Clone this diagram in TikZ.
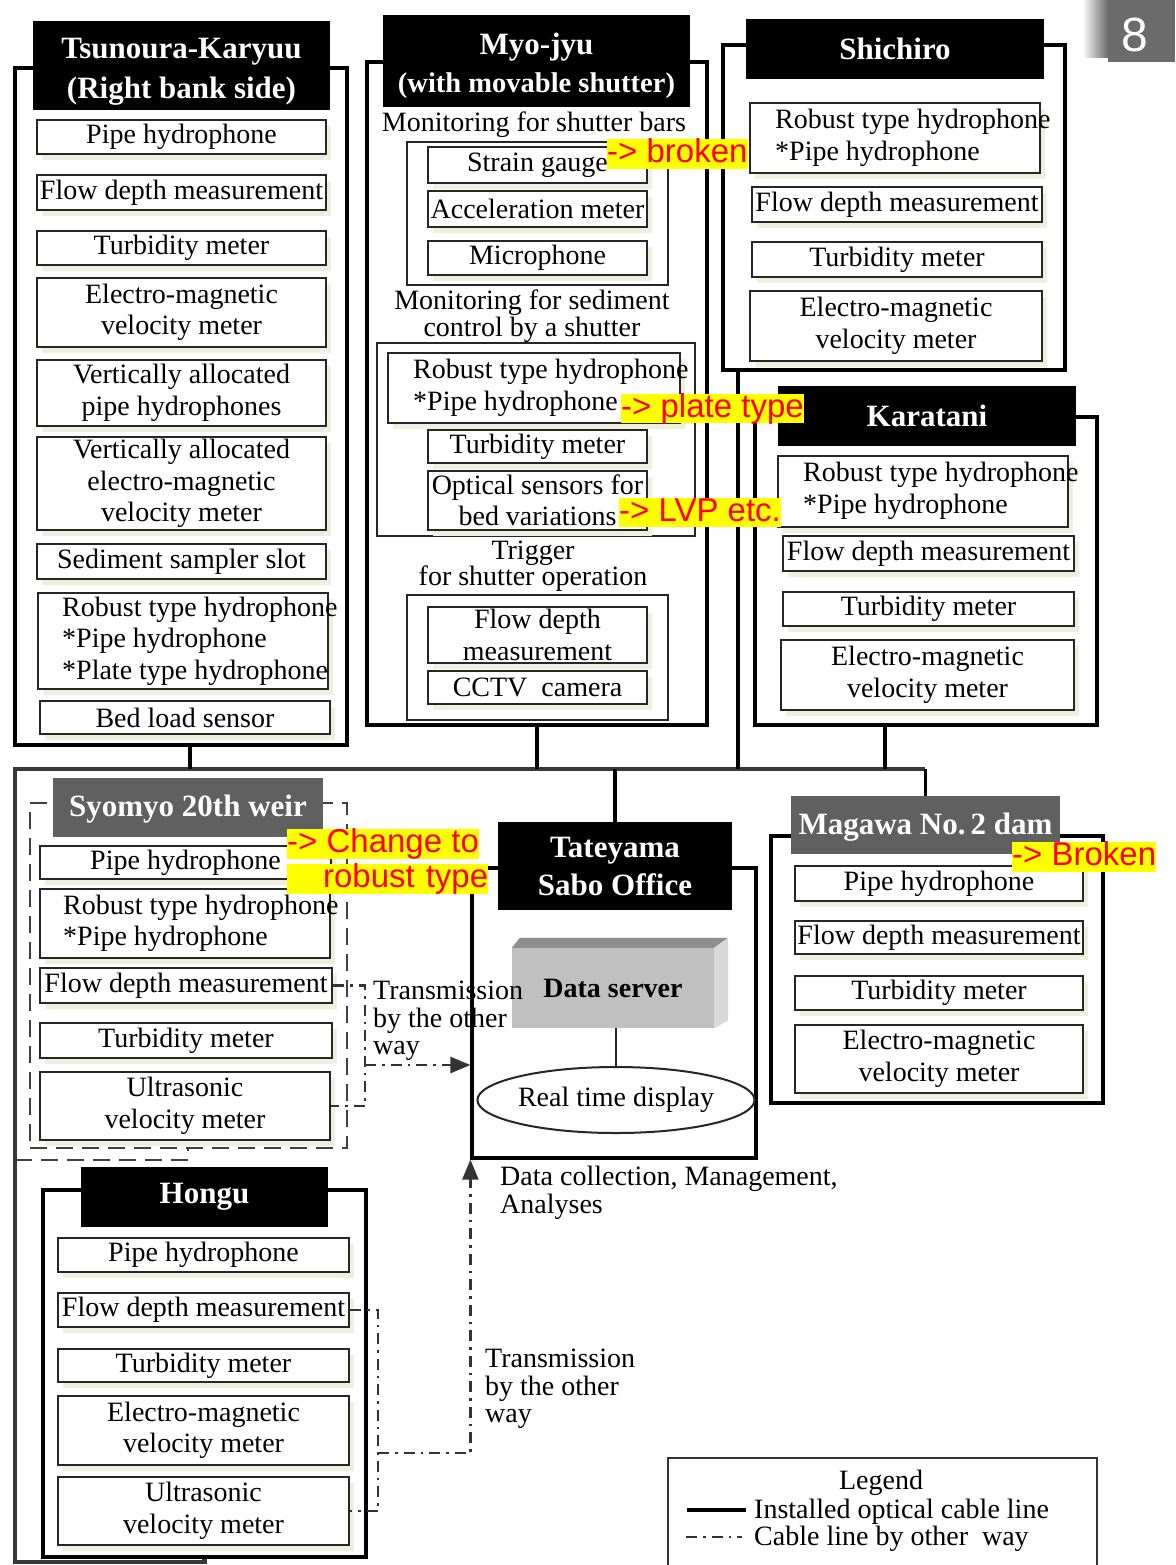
\documentclass[tikz,border=0pt]{standalone}
\usepackage{fontspec}
\setmainfont{Liberation Serif}
\setsansfont{Liberation Sans}
\usetikzlibrary{arrows.meta,shapes.geometric,shadows}
\definecolor{hdrgray}{HTML}{606060}
\definecolor{srvfront}{HTML}{C0C0C0}
\definecolor{srvtop}{HTML}{8E8E8E}
\definecolor{srvside}{HTML}{D8D8D8}
\definecolor{tabgray}{HTML}{6B6B6B}
\definecolor{annotbg}{HTML}{FFFF00}
\definecolor{annotfg}{HTML}{FF0000}
\definecolor{shadowtint}{HTML}{EFEFE0}
\definecolor{cablegray}{HTML}{383838}
% named node placed by its corner coordinates (units: px)
\newcommand\putbox[7]{\node[#2,minimum width={(#5)-(#3)},minimum height={(#6)-(#4)}] (#1) at ({((#3)+(#5))/2},{((#4)+(#6))/2}) {#7};}
\begin{document}
\begin{tikzpicture}[x=1pt,y=-1pt,
  frame/.style={draw=black,line width=3.2pt,inner sep=0pt},
  subframe/.style={draw=black!85,line width=2pt,inner sep=0pt},
  dashframe/.style={draw=black!75,line width=2.8pt,dash pattern=on 17pt off 9pt},
  item/.style={draw=black!85,line width=2pt,fill=white,inner sep=0pt,align=center,
    font=\fontsize{28}{31.5}\selectfont,
    drop shadow={fill=shadowtint,opacity=1,shadow xshift=5pt,shadow yshift=-6pt}},
  hdr/.style={fill=black,text=white,inner sep=0pt,align=center,font=\bfseries\fontsize{31}{38}\selectfont},
  hdrg/.style={hdr,fill=hdrgray},
  txt/.style={inner sep=0pt,align=left,font=\fontsize{28}{31.5}\selectfont},
  ctxt/.style={inner sep=0pt,align=center,font=\fontsize{28}{26.5}\selectfont},
  note/.style={inner sep=0pt,align=left,font=\fontsize{28}{27.5}\selectfont},
  annot/.style={fill=annotbg,text=annotfg,inner sep=0pt,text height=23.5pt,text depth=6pt,
    font=\sffamily\fontsize{33}{33}\selectfont},
  cable/.style={draw=cablegray,line width=4.2pt},
  link/.style={draw=black,line width=3.2pt},
  otherway/.style={draw=black!80,line width=2.4pt,dash pattern=on 11pt off 6pt on 2.5pt off 6pt},
  tip/.style={-{Triangle[length=20pt,width=16pt]}},
  legframe/.style={draw=black!80,line width=2.2pt,inner sep=0pt},
  tabbox/.style={fill=tabgray,inner sep=0pt},
]
\fill[white] (0,0) rectangle (1175,1565);
\useasboundingbox (0,0) rectangle (1175,1565);

% ---------- cable junctions ----------
\coordinate (busW) at (15,769);
\coordinate (busE) at (925,769);
\coordinate (tkJ) at (190,769);
\coordinate (shJ) at (738,769);
\coordinate (kaJ) at (885,769);
\coordinate (lcorner) at (15,1562);
\coordinate (syJ) at (188,1160);

% ---------- Tsunoura-Karyuu ----------
\putbox{tkF}{frame}{15}{68}{347}{745}{}
\putbox{tkH}{hdr}{33}{21}{330}{110}{\rule{0pt}{33pt}Tsunoura-Karyuu\\[2pt](Right bank side)}
\putbox{tk1}{item}{37}{120}{326}{154}{Pipe hydrophone}
\putbox{tk2}{item}{37}{175}{326}{210}{Flow depth measurement}
\putbox{tk3}{item}{37}{231}{326}{265}{Turbidity meter}
\putbox{tk4}{item}{37}{278}{326}{347}{Electro-magnetic\\velocity meter}
\putbox{tk5}{item}{37}{360}{326}{426}{Vertically allocated\\pipe hydrophones}
\putbox{tk6}{item}{37}{437}{326}{530}{Vertically allocated\\electro-magnetic\\velocity meter}
\putbox{tk7}{item}{37}{544}{326}{579}{Sediment sampler slot}
\putbox{tk8}{item}{38}{593}{328}{689}{}
\node[txt,anchor=west] (tk8t) at (62,641) {Robust type hydrophone\\*Pipe hydrophone\\*Plate type hydrophone};
\putbox{tk9}{item}{40}{701}{330}{734}{Bed load sensor}

% ---------- Myo-jyu ----------
\putbox{myF}{frame}{367}{62}{707}{725}{}
\putbox{myH}{hdr}{383}{15}{690}{107}{\rule{0pt}{32pt}Myo-jyu\\{\fontsize{28.5}{38}\selectfont(with movable shutter)}}
\node[ctxt] (myL1) at (534,125) {Monitoring for shutter bars};
\putbox{myS1}{subframe}{407}{142}{668}{285}{}
\putbox{my1}{item}{428}{147}{647}{183}{Strain gauge}
\putbox{my2}{item}{428}{191}{647}{227}{Acceleration meter}
\putbox{my3}{item}{428}{241}{647}{275}{Microphone}
\node[ctxt] (myL2) at (532,316) {Monitoring for sediment\\control by a shutter};
\putbox{myS2}{subframe}{377}{343}{695}{536}{}
\putbox{my4}{item}{388}{353}{680}{423}{}
\node[txt,anchor=west] (my4t) at (413,388) {Robust type hydrophone\\*Pipe hydrophone};
\putbox{my5}{item}{428}{430}{647}{463}{Turbidity meter}
\putbox{my6}{item}{428}{471}{647}{530}{Optical sensors for\\bed variations}
\node[ctxt] (myL3) at (533,566) {Trigger\\for shutter operation};
\putbox{myS3}{subframe}{407}{595}{668}{720}{}
\putbox{my7}{item}{428}{607}{647}{663}{Flow depth\\measurement}
\putbox{my8}{item}{428}{671}{647}{704}{CCTV~ camera}

% ---------- Shichiro ----------
\putbox{shF}{frame}{723}{45}{1065}{370}{}
\putbox{shH}{hdr}{746}{19}{1044}{79}{Shichiro}
\putbox{sh1}{item}{750}{103}{1040}{173}{}
\node[txt,anchor=west] (sh1t) at (775,138) {Robust type hydrophone\\*Pipe hydrophone};
\putbox{sh2}{item}{752}{187}{1042}{222}{Flow depth measurement}
\putbox{sh3}{item}{752}{242}{1042}{277}{Turbidity meter}
\putbox{sh4}{item}{750}{291}{1042}{361}{Electro-magnetic\\velocity meter}

% ---------- Karatani ----------
\putbox{kaF}{frame}{755}{417}{1097}{725}{}
\putbox{kaH}{hdr}{778}{386}{1076}{446}{Karatani}
\putbox{ka1}{item}{778}{456}{1068}{527}{}
\node[txt,anchor=west] (ka1t) at (803,491) {Robust type hydrophone\\*Pipe hydrophone};
\putbox{ka2}{item}{783}{536}{1074}{571}{Flow depth measurement}
\putbox{ka3}{item}{783}{592}{1074}{626}{Turbidity meter}
\putbox{ka4}{item}{781}{640}{1074}{710}{Electro-magnetic\\velocity meter}

% ---------- Syomyo 20th weir ----------
\putbox{syF}{dashframe}{30}{803}{347}{1148}{}
\draw[dashframe] (busW |- syJ) -- (syJ) -- (syJ |- syF.south);
\putbox{syH}{hdrg}{53}{778}{323}{837}{\rule{0pt}{25pt}Syomyo 20th weir}
\putbox{sy1}{item}{40}{846}{331}{879}{Pipe hydrophone}
\putbox{sy2}{item}{40}{889}{330}{958}{}
\node[txt,anchor=west] (sy2t) at (63,923.5) {Robust type hydrophone\\*Pipe hydrophone};
\putbox{sy3}{item}{40}{968}{332}{1003}{Flow depth measurement}
\putbox{sy4}{item}{40}{1023}{332}{1058}{Turbidity meter}
\putbox{sy5}{item}{40}{1072}{330}{1140}{Ultrasonic\\velocity meter}

% ---------- Tateyama Sabo Office ----------
\putbox{taF}{frame}{472}{868}{756}{1158}{}
\putbox{taH}{hdr}{498}{822}{732}{910}{Tateyama\\Sabo Office}
\putbox{srv}{fill=srvfront,inner sep=0pt,font=\bfseries\fontsize{28}{28}\selectfont}{512}{948}{714}{1028}{Data server}
\fill[srvtop] (srv.north west) -- ([shift={(8,-10)}]srv.north west) -- ([shift={(14,-10)}]srv.north east) -- (srv.north east) -- cycle;
\fill[srvside] (srv.north east) -- ([shift={(14,-10)}]srv.north east) -- ([shift={(14,-8)}]srv.south east) -- (srv.south east) -- cycle;
\node[ellipse,draw=black!85,line width=2pt,minimum width=272pt,minimum height=66pt,inner sep=0pt,
  font=\fontsize{28}{28}\selectfont] (rtd) at (616,1100) {Real time display};
\draw[draw=black!85,line width=2.4pt] (srv.south -| rtd.north) -- (rtd.north);
\node[note,anchor=north west] (taL) at (500,1166) {Data collection, Management,\\Analyses};

% ---------- Magawa No. 2 dam ----------
\putbox{maF}{frame}{771}{836}{1103}{1103}{}
\putbox{maH}{hdrg}{791}{796}{1060}{854}{\rule{0pt}{25pt}Magawa No.\,2 dam}
\putbox{ma1}{item}{795}{866}{1083}{901}{Pipe hydrophone}
\putbox{ma2}{item}{795}{921}{1083}{954}{Flow depth measurement}
\putbox{ma3}{item}{795}{976}{1083}{1010}{Turbidity meter}
\putbox{ma4}{item}{795}{1025}{1083}{1093}{Electro-magnetic\\velocity meter}

% ---------- Hongu ----------
\putbox{hoF}{frame}{43}{1190}{366}{1557}{}
\putbox{hoH}{hdr}{81}{1167}{328}{1227}{Hongu}
\putbox{ho1}{item}{58}{1238}{349}{1272}{Pipe hydrophone}
\putbox{ho2}{item}{58}{1293}{349}{1327}{Flow depth measurement}
\putbox{ho3}{item}{58}{1349}{349}{1382}{Turbidity meter}
\putbox{ho4}{item}{58}{1396}{349}{1465}{Electro-magnetic\\velocity meter}
\putbox{ho5}{item}{58}{1477}{349}{1545}{Ultrasonic\\velocity meter}

% ---------- optical cable network ----------
\draw[cable] (busE) -- (busW) -- (lcorner) -| (hoF.south);
\draw[link] (tkJ |- tkF.south) -- (tkJ);
\draw[link] (myF.south) -- (myF.south |- busW);
\draw[link] (shJ |- shF.south) -- (shJ);
\draw[link] (kaJ |- kaF.south) -- (kaJ);
\draw[link] (taH.north |- busW) -- (taH.north);
\draw[link] (maH.north |- busE) -- (maH.north);

% ---------- transmission by other ways ----------
\coordinate (syB) at (365,1065);
\draw[otherway] (sy3.east) -| (syB) |- (sy5.east);
\draw[otherway,tip] (syB) -- (syB -| taF.west);
\node[note,anchor=north west] (syT) at (373,981) {Transmission\\by the other\\way};
\coordinate (hoB) at (378,1453);
\draw[otherway] (ho2.east) -| (hoB) |- (ho5.east);
\draw[otherway,tip] (hoB) -| (taF.south west);
\node[note,anchor=north west] (hoT) at (485,1349) {Transmission\\by the other\\way};

% ---------- status notes ----------
\node[annot,anchor=west] (myA1) at (607,154) {-> broken};
\node[annot,anchor=west] (myA2) at (621,408.5) {-> plate type};
\node[annot,anchor=west] (myA3) at (619,512.5) {-> LVP etc.};
\node[annot,anchor=west] (syA1) at (287,844) {-> Change to};
\node[annot,anchor=west,text width=201pt,align=right] (syA2) at (287,879) {robust type};
\node[annot,anchor=west] (maA) at (1012,857) {-> Broken};

% ---------- legend ----------
\putbox{lgF}{legframe}{668}{1458}{1097}{1600}{}
\node[txt] (lgT) at (881,1483) {Legend};
\coordinate (lgA) at (687,1510);
\coordinate (lgB) at (746,1510);
\draw[line width=4.5pt] (lgA) -- (lgB);
\coordinate (lgC) at (686,1537);
\coordinate (lgD) at (742,1537);
\draw[otherway] (lgC) -- (lgD);
\node[txt,anchor=west] (lgT1) at (754,1512) {Installed optical cable line};
\node[txt,anchor=west] (lgT2) at (754,1539) {Cable line by other\ \ way};

% ---------- page tab ----------
\shade[left color=white,right color=tabgray] (1082,0) rectangle (1108,58);
\putbox{tab}{tabbox}{1108}{0}{1175}{62}{}
\node[inner sep=0pt,text=white,font=\sffamily\fontsize{48}{48}\selectfont] (tabnum) at (1135,35) {8};
\end{tikzpicture}
\end{document}
